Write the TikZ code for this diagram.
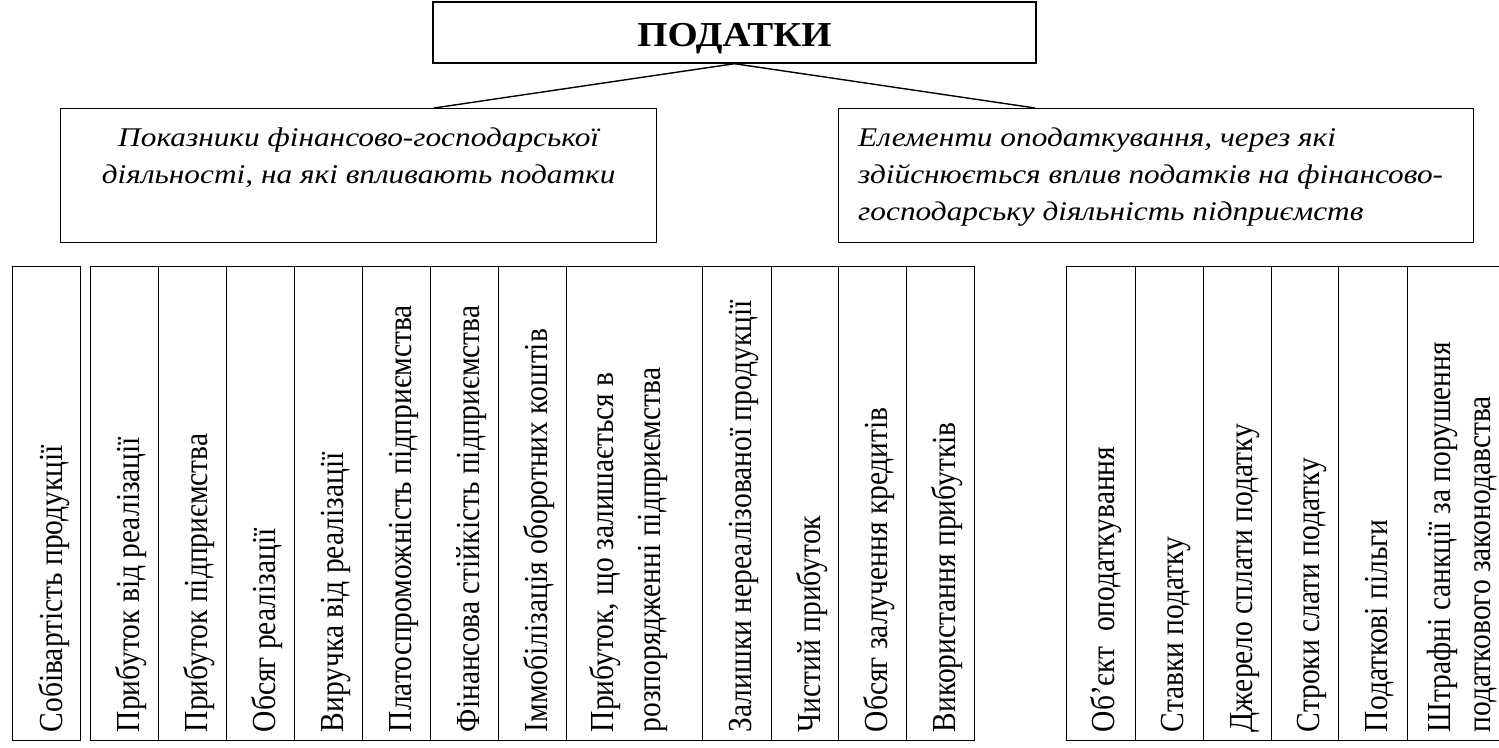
\documentclass[tikz,border=0pt]{standalone}
\usepackage{fontspec}
\setmainfont{Liberation Serif}
\begin{document}
\begin{tikzpicture}[x={(1pt,0)}, y={(0,-1pt)},
  box/.style={draw, line width=1.4pt, inner sep=0pt, anchor=north west},
  topbox/.style={draw, line width=1.4pt, inner sep=0pt, xscale=1.11,
    font=\fontsize{35}{40}\selectfont\bfseries, text height=27pt, text depth=0pt},
  conn/.style={line width=1.4pt},
  vtext/.style={rotate=90, yscale=1.14, anchor=north west, inner sep=0pt,
    font=\fontsize{29.5}{41}\selectfont, text height=20pt, align=left},
  htext/.style={xscale=1.16, inner sep=0pt,
    font=\fontsize{27}{37}\selectfont\itshape, text height=20pt}
]
\useasboundingbox (0,0) rectangle (1499,747);
\clip (0,0) rectangle (1499,747);

% top box
\node[topbox, minimum width=543pt, minimum height=61pt] (T) at (734.5,32.5) {ПОДАТКИ};

% second row boxes
\node[box, minimum width=596pt, minimum height=134pt] (L) at (60,108) {};
\node[box, minimum width=635pt, minimum height=134pt] (R) at (838,108) {};
\node[htext, anchor=north, align=center] (Lt) at ([yshift=-55pt]L.north)
  {Показники фінансово-господарської\\діяльності, на які впливають податки};
\node[htext, anchor=north west, align=left] (Rt) at ([shift={(20pt,-92pt)}]R.north west)
  {Елементи оподаткування, через які\\здійснюється вплив податків на фінансово-\\господарську діяльність підприємств};

\coordinate (lend) at ([xshift=374pt]L.north west);
\coordinate (rend) at ([xshift=197pt]R.north west);
\draw[conn] (T.south) -- (lend);
\draw[conn] (T.south) -- (rend);

% bottom columns
\node[box, minimum width=68pt, minimum height=474pt] (c0) at (12,266) {};
\node[vtext] (c0t) at ([shift={(27pt,9pt)}]c0.south west) {Собівартість продукції};

\node[box, minimum width=68pt, minimum height=474pt] (g1) at (90,266) {};
\node[box, minimum width=68pt, minimum height=474pt] (g2) at (158,266) {};
\node[box, minimum width=68pt, minimum height=474pt] (g3) at (226,266) {};
\node[box, minimum width=68pt, minimum height=474pt] (g4) at (294,266) {};
\node[box, minimum width=68pt, minimum height=474pt] (g5) at (362,266) {};
\node[box, minimum width=68pt, minimum height=474pt] (g6) at (430,266) {};
\node[box, minimum width=68pt, minimum height=474pt] (g7) at (498,266) {};
\node[box, minimum width=136pt, minimum height=474pt] (g8) at (566,266) {};
\node[box, minimum width=69pt, minimum height=474pt] (g9) at (702,266) {};
\node[box, minimum width=67pt, minimum height=474pt] (g10) at (771,266) {};
\node[box, minimum width=68pt, minimum height=474pt] (g11) at (838,266) {};
\node[box, minimum width=68pt, minimum height=474pt] (g12) at (906,266) {};

\node[vtext] (g1t) at ([shift={(26pt,9pt)}]g1.south west) {Прибуток від реалізації};
\node[vtext] (g2t) at ([shift={(26pt,9pt)}]g2.south west) {Прибуток підприємства};
\node[vtext] (g3t) at ([shift={(26pt,9pt)}]g3.south west) {Обсяг реалізації};
\node[vtext] (g4t) at ([shift={(26pt,9pt)}]g4.south west) {Виручка від реалізації};
\node[vtext] (g5t) at ([shift={(26pt,9pt)}]g5.south west) {Платоспроможність підприємства};
\node[vtext] (g6t) at ([shift={(26pt,9pt)}]g6.south west) {Фінансова стійкість підприємства};
\node[vtext] (g7t) at ([shift={(26pt,9pt)}]g7.south west) {Іммобілізація оборотних коштів};
\node[vtext] (g8t) at ([shift={(71pt,9pt)}]g8.south west) {Прибуток, що залишається в\\розпорядженні підприємства};
\node[vtext] (g9t) at ([shift={(26pt,9pt)}]g9.south west) {Залишки нереалізованої продукції};
\node[vtext] (g10t) at ([shift={(26pt,9pt)}]g10.south west) {Чистий прибуток};
\node[vtext] (g11t) at ([shift={(26pt,9pt)}]g11.south west) {Обсяг залучення кредитів};
\node[vtext] (g12t) at ([shift={(26pt,9pt)}]g12.south west) {Використання прибутків};

\node[box, minimum width=69pt, minimum height=474pt] (e1) at (1066,266) {};
\node[box, minimum width=68pt, minimum height=474pt] (e2) at (1135,266) {};
\node[box, minimum width=68pt, minimum height=474pt] (e3) at (1203,266) {};
\node[box, minimum width=67pt, minimum height=474pt] (e4) at (1271,266) {};
\node[box, minimum width=69pt, minimum height=474pt] (e5) at (1338,266) {};
\node[box, minimum width=123pt, minimum height=474pt] (e6) at (1407,266) {};

\node[vtext] (e1t) at ([shift={(25pt,9pt)}]e1.south west) {Об’єкт\ \ оподаткування};
\node[vtext] (e2t) at ([shift={(25pt,9pt)}]e2.south west) {Ставки податку};
\node[vtext] (e3t) at ([shift={(26pt,9pt)}]e3.south west) {Джерело сплати податку};
\node[vtext] (e4t) at ([shift={(25pt,9pt)}]e4.south west) {Строки слати податку};
\node[vtext] (e5t) at ([shift={(26pt,9pt)}]e5.south west) {Податкові пільги};
\node[vtext, font=\fontsize{29.5}{35}\selectfont] (e6t) at ([shift={(60pt,9pt)}]e6.south west) {Штрафні санкції за порушення\\податкового законодавства};
\end{tikzpicture}
\end{document}
